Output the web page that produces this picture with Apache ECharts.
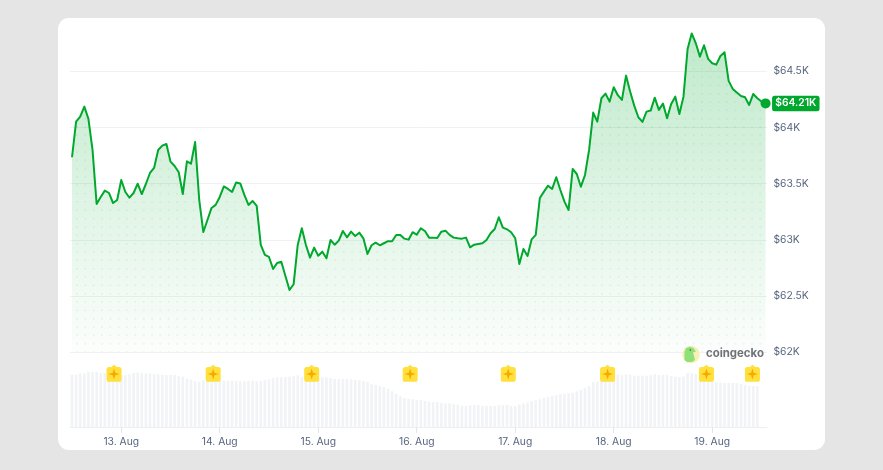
<!DOCTYPE html>
<html>
<head>
<meta charset="utf-8">
<style>
html,body{margin:0;padding:0;background:#e5e5e5;width:883px;height:470px;overflow:hidden}
#card{position:absolute;left:58px;top:18px;width:767px;height:432px;background:#fff;border-radius:11px}
#chart{position:absolute;left:0;top:0;width:883px;height:470px}
</style>
<script src="https://cdn.jsdelivr.net/npm/echarts@6/dist/echarts.min.js"></script>
</head>
<body>
<div id="card"></div>
<div id="chart"></div>
<script>
const prices = [63735,64052,64096,64185,64076,63800,63319,63382,63438,63417,63328,63355,63533,63426,63375,63417,63500,63408,63497,63595,
63640,63800,63838,63853,63696,63657,63601,63408,63699,63678,63871,63355,63070,63177,63284,63311,63382,63475,63453,63426,
63511,63502,63400,63311,63346,63302,62955,62866,62848,62741,62795,62806,62679,62554,62605,62955,63103,62955,62842,62931,
62859,62895,62836,62999,62957,62993,63079,63023,63073,63035,63064,63014,62875,62952,62975,62952,62970,62988,62988,63044,
63044,63011,63002,63068,63046,63103,63079,63020,63020,63017,63073,63082,63044,63020,63014,63011,63020,62934,62957,62964,
62970,62999,63059,63097,63201,63109,63094,63068,63014,62786,62919,62857,63005,63044,63373,63429,63482,63453,63557,63444,
63340,63266,63631,63586,63473,63577,63800,64132,64052,64260,64301,64230,64358,64287,64245,64461,64319,64194,64091,64049,
64141,64150,64265,64156,64212,64082,64209,64274,64120,64274,64698,64836,64749,64630,64731,64610,64571,64559,64636,64669,
64414,64343,64310,64280,64269,64200,64298,64260,64230,64214];
const volumes = [52.3,52.3,53.7,53.7,55.3,55,55.3,54,54,54,54,53,52,51.7,52.7,54,54.3,53.7,53.7,53.7,
53,52.7,52,52,52,52,50.7,50.3,48.3,47.3,45.7,45,46.7,46.7,46.7,46.5,46.5,46.3,46.3,46.3,
45.7,45.7,45.7,46,46.3,45.7,46.3,47,47.7,49,49.7,49.7,50,50.3,51.3,51.7,50,49,48.5,49,
49.5,49.7,49.7,49,48,48,48,48,47.7,47.3,46.7,46,45,42.7,42,41,40,38.3,35.7,33.3,
30.7,29,28,27.7,27,27,26,25.3,25,25,24,23.7,23.7,22.7,22.3,21.3,21,21.7,22,22,
21.3,21,21,21,21.7,22,22,21,21,22.3,23.3,24.3,25.7,26.7,27.7,29,30,31.3,32,33,
33.3,33.7,34.3,35.7,37,39,41,45,45.3,46,48,50,52,52.7,51.7,52.7,52.3,51.3,51.3,51.3,
51.3,51.7,52.7,52,52,52,50.7,50.3,50,50.3,54,53.7,53,50,47,46,45,44.7,44.3,44,
44,44,44,43,42.3,41,41,41];
const flagHours = [-1.76,22.4,46.4,70.4,94.3,118.5,142.6,153.8];
const flagLevel = 53.7;
const tickHours = [0,24,48,72,96,120,144];
const tickLabels = ['13. Aug','14. Aug','15. Aug','16. Aug','17. Aug','18. Aug','19. Aug'];
const firstHour = -12;

const GREEN = '#00a82d', FONT = 'Inter, "Noto Sans", sans-serif', LABEL = '#56647f';
const priceData = prices.map((v, i) => [firstHour + i, v]);
const volumeData = volumes.map((v, i) => [firstHour + i, v]);
const lastPrice = priceData[priceData.length - 1];
const fmtK = v => '$' + (v / 1000) + 'K';

// dotted texture used inside the area
const tile = document.createElement('canvas');
tile.width = tile.height = 25;
const c = tile.getContext('2d');
c.fillStyle = 'rgba(0,140,60,0.08)';
for (let a = 0; a < 3; a++) for (let b = 0; b < 3; b++) {
  c.beginPath(); c.arc(2 + a * 25 / 3, 2 + b * 25 / 3, 1, 0, 7); c.fill();
}

const xBase = { type: 'value', min: -12.49, max: 157.35, splitLine: { show: false } };
const flagPath = 'path://M50 0 L68 14 L84 14 Q100 14 100 30 L100 90 Q100 106 84 106 L16 106 Q0 106 0 90 L0 30 Q0 14 16 14 L32 14 Z';
const starPath = 'path://M50 0 L62 38 L100 50 L62 62 L50 100 L38 62 L0 50 L38 38 Z';

const chart = echarts.init(document.getElementById('chart'), null, { renderer: 'canvas' });
chart.setOption({
  animation: false,
  grid: [
    { left: 70, width: 697, top: 18.4, height: 333.9 },
    { left: 70, width: 697, top: 360, height: 67 }
  ],
  xAxis: [
    Object.assign({ gridIndex: 0, axisLine: { show: false }, axisTick: { show: false }, axisLabel: { show: false } }, xBase),
    Object.assign({
      gridIndex: 1,
      axisLine: { show: true, onZero: false, lineStyle: { color: '#edeff3', width: 1 } },
      axisTick: { show: true, customValues: tickHours, length: 6, lineStyle: { color: '#e3e6ec' } },
      axisLabel: {
        show: true, customValues: tickHours, margin: 10, color: LABEL, fontFamily: FONT, fontSize: 10.3,
        hideOverlap: false,
        formatter: v => tickLabels[tickHours.indexOf(v)] || ''
      }
    }, xBase)
  ],
  yAxis: [
    {
      gridIndex: 0, type: 'value', position: 'right', min: 62000, max: 64970, interval: 500,
      axisLine: { show: false }, axisTick: { show: false },
      splitLine: { show: true, showMaxLine: false, lineStyle: { color: '#f0f1f3', width: 1 } },
      axisLabel: {
        margin: 6.5, color: LABEL, fontFamily: FONT, fontSize: 10.3, showMaxLabel: false,
        formatter: v => v % 500 === 0 ? fmtK(v) : ''
      }
    },
    { gridIndex: 1, type: 'value', min: 0, max: 67, show: false, splitLine: { show: false } }
  ],
  series: [
    {
      type: 'bar', xAxisIndex: 1, yAxisIndex: 1, data: volumeData, barWidth: 2.6, clip: false,
      itemStyle: { color: '#f1f3f6' }, silent: true
    },
    {
      type: 'line', xAxisIndex: 0, yAxisIndex: 0, data: priceData, showSymbol: false, z: 3,
      lineStyle: { color: GREEN, width: 2, join: 'round' },
      areaStyle: {
        origin: 'start', opacity: 1,
        color: new echarts.graphic.LinearGradient(0, 0, 0, 1, [
          { offset: 0, color: 'rgba(0,168,45,0.25)' },
          { offset: 1, color: 'rgba(0,168,45,0.01)' }
        ])
      }
    },
    {
      type: 'line', xAxisIndex: 0, yAxisIndex: 0, data: priceData, showSymbol: false, z: 2,
      lineStyle: { width: 0, opacity: 0 },
      areaStyle: { origin: 'start', opacity: 1, color: { image: tile, repeat: 'repeat' } }
    },
    {
      type: 'scatter', xAxisIndex: 0, yAxisIndex: 0, data: [lastPrice], symbol: 'circle', symbolSize: 10, z: 6,
      clip: false, itemStyle: { color: GREEN, opacity: 1 },
      label: {
        show: true, position: 'right', distance: 1.5,
        formatter: p => '$' + (p.value[1] / 1000).toFixed(2) + 'K',
        color: '#fff', fontFamily: FONT, fontWeight: 600, fontSize: 10.3,
        backgroundColor: GREEN, borderRadius: 2.5, padding: [3, 3.2, 2.5, 3.2]
      }
    },
    {
      type: 'scatter', xAxisIndex: 1, yAxisIndex: 1, data: flagHours.map(h => [h, flagLevel]),
      symbol: flagPath, symbolSize: [15, 17], z: 5, itemStyle: { color: '#ffe03c', opacity: 1 }
    },
    {
      type: 'scatter', xAxisIndex: 1, yAxisIndex: 1, data: flagHours.map(h => [h, flagLevel - 0.7]),
      symbol: starPath, symbolSize: 11, z: 6, itemStyle: { color: '#f8a900', opacity: 1 }
    }
  ],
  graphic: [
    { type: 'circle', z: 10, shape: { cx: 691, cy: 354.5, r: 8.8 }, style: { fill: '#f7f0b5' } },
    { type: 'polygon', z: 11, shape: { points: [[684.5,360],[684.5,352],[686,348],[690,346.8],[693.5,348],[696,351.5],[693,352.5],[694,356],[695,360],[692,362],[687,362]] }, style: { fill: '#8fe07a' } },
    { type: 'circle', z: 12, shape: { cx: 690.3, cy: 350, r: 0.8 }, style: { fill: '#35603a' } },
    { type: 'text', z: 11, style: { x: 706, y: 353.5, text: 'coingecko', fill: '#6f7277', font: '700 11.4px Inter, sans-serif', verticalAlign: 'middle' } }
  ]
});
</script>
</body>
</html>
